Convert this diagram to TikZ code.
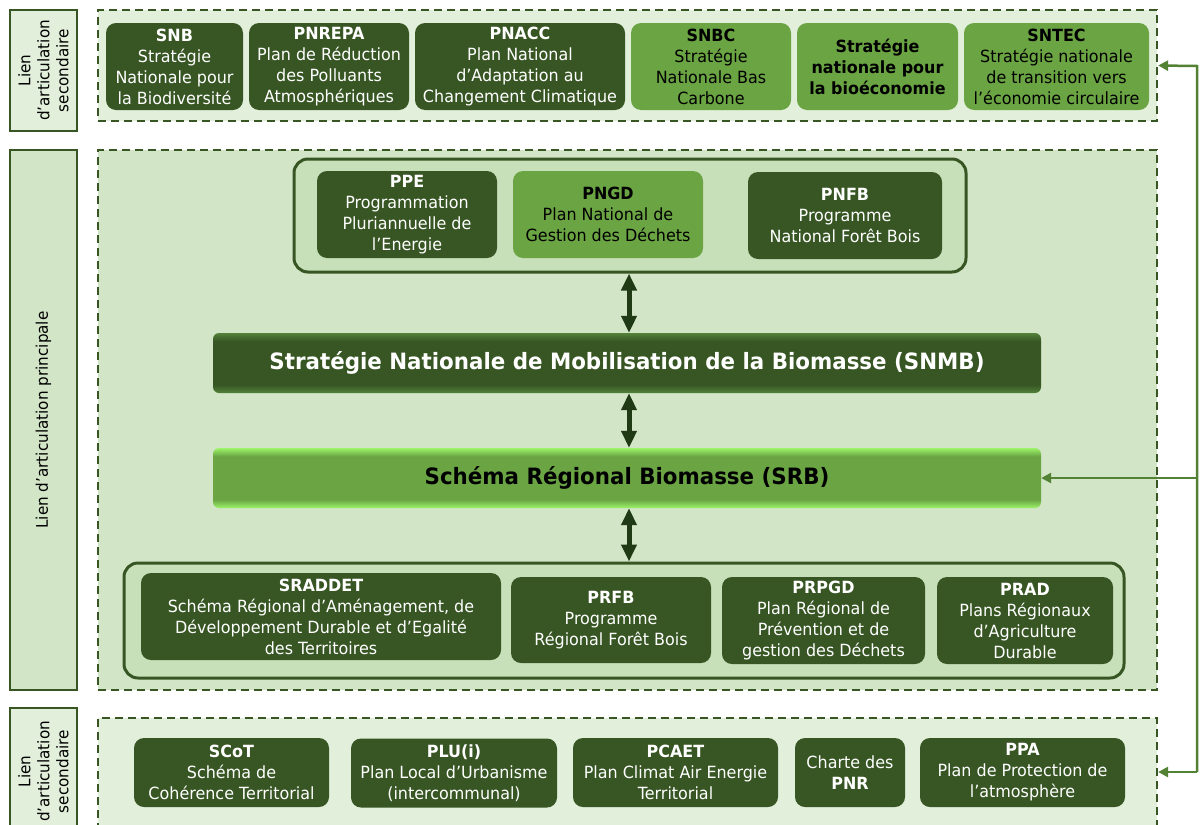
\documentclass[tikz,border=0pt]{standalone}
\usepackage{fontspec}
\setmainfont{DejaVu Sans}[FakeStretch=0.95]
\usetikzlibrary{arrows.meta}
\definecolor{dg}{HTML}{375623}
\definecolor{lg}{HTML}{6AA443}
\definecolor{palebg}{HTML}{E2EFDA}
\definecolor{midbg}{HTML}{D2E5C6}
\definecolor{innerbg}{HTML}{C8E0B9}
\definecolor{arrowdk}{HTML}{213A16}
\definecolor{conncol}{HTML}{548235}
\definecolor{snmbedge}{HTML}{52813A}
\definecolor{srbedge}{HTML}{9CF46A}
\pgfdeclareverticalshading{snmbshade}{100bp}{color(0bp)=(snmbedge); color(25bp)=(snmbedge); color(32bp)=(dg); color(68bp)=(dg); color(75bp)=(snmbedge); color(100bp)=(snmbedge)}
\pgfdeclareverticalshading{srbshade}{100bp}{color(0bp)=(srbedge); color(25bp)=(srbedge); color(32bp)=(lg); color(68bp)=(lg); color(75bp)=(srbedge); color(100bp)=(srbedge)}
\tikzset{
  basebox/.style={rounded corners=10pt, align=center, inner sep=1pt,
    font=\fontsize{16.8}{21}\selectfont},
  dbox/.style={basebox, fill=dg, text=white},
  lbox/.style={basebox, fill=lg, text=black},
  dashcont/.style={draw=dg, line width=2.2pt, dash pattern=on 8pt off 5pt, inner sep=0pt},
  innercont/.style={draw=dg, line width=3pt, fill=innerbg, rounded corners=14pt, inner sep=0pt},
  lab/.style={draw=dg, line width=1.5pt, rotate=90, align=center, inner sep=0pt,
    font=\fontsize{16}{19}\selectfont},
  bar/.style={rounded corners=6pt, inner sep=0pt, font=\fontsize{22.5}{26}\selectfont\bfseries},
  dblarrow/.style={draw=arrowdk, line width=5pt,
    {Triangle[width=15pt,length=17pt]}-{Triangle[width=15pt,length=17pt]}},
  conn/.style={draw=conncol, line width=2.5pt, -{Triangle[width=10pt,length=10pt]}}
}
\begin{document}
\begin{tikzpicture}[x=1pt,y=-1pt]
\useasboundingbox (0,0) rectangle (1200,825);
\begin{scope}
\clip (0,0) rectangle (1200,825);
% labels
\node[lab, fill=palebg, minimum width=121pt, minimum height=67pt] (labtop) at (43.5,70.5) {Lien\\d'articulation\\secondaire};
\node[lab, fill=midbg, minimum width=540pt, minimum height=67pt] (labmid) at (43.5,420) {Lien d'articulation principale};
\node[lab, fill=palebg, minimum width=127pt, minimum height=67pt] (labbot) at (43.5,771.5) {Lien\\d'articulation\\secondaire};
% containers
\node[dashcont, fill=palebg, minimum width=1059pt, minimum height=111pt] (topc) at (627.5,65.5) {};
\node[dashcont, fill=midbg, minimum width=1059pt, minimum height=540pt] (midc) at (627.5,420) {};
\node[dashcont, fill=palebg, minimum width=1059pt, minimum height=117pt] (botc) at (627.5,776.5) {};
% top row
\node[dbox, minimum width=137pt, minimum height=87pt] (snb) at (174.5,66.5) {\textbf{SNB}\\Stratégie\\Nationale pour\\la Biodiversité};
\node[dbox, minimum width=160pt, minimum height=87pt] (pnrepa) at (329,66.5) {\textbf{PNREPA}\\Plan de Réduction\\des Polluants\\Atmosphériques};
\node[dbox, minimum width=210pt, minimum height=87pt] (pnacc) at (520,66.5) {\textbf{PNACC}\\Plan National\\d’Adaptation au\\Changement Climatique};
\node[lbox, minimum width=160pt, minimum height=87pt] (snbc) at (711,66.5) {\textbf{SNBC}\\Stratégie\\Nationale Bas\\Carbone};
\node[lbox, minimum width=161pt, minimum height=87pt, font=\fontsize{16.8}{21}\selectfont\bfseries] (bioeco) at (877.5,66.5) {Stratégie\\nationale pour\\la bioéconomie};
\node[lbox, minimum width=185pt, minimum height=87pt] (sntec) at (1056.5,66.5) {\textbf{SNTEC}\\Stratégie nationale\\de transition vers\\l’économie circulaire};
% middle: national
\node[innercont, minimum width=672pt, minimum height=113pt] (ptop) at (630,215.5) {};
\node[dbox, minimum width=180pt, minimum height=87pt] (ppe) at (407,214.5) {\textbf{PPE}\\Programmation\\Pluriannuelle de\\l’Energie};
\node[lbox, minimum width=190pt, minimum height=87pt] (pngd) at (608,214.5) {\textbf{PNGD}\\Plan National de\\Gestion des Déchets};
\node[dbox, minimum width=194pt, minimum height=87pt] (pnfb) at (845,215.5) {\textbf{PNFB}\\Programme\\National Forêt Bois};
% bars
\node[bar, text=white, shading=snmbshade, minimum width=828pt, minimum height=60pt] (snmb) at (627,363) {Stratégie Nationale de Mobilisation de la Biomasse (SNMB)};
\node[bar, text=black, shading=srbshade, minimum width=828pt, minimum height=60pt] (srb) at (627,478) {Schéma Régional Biomasse (SRB)};
% regional
\node[innercont, minimum width=1000pt, minimum height=115pt] (pbot) at (624,620.5) {};
\node[dbox, minimum width=360pt, minimum height=87pt] (sraddet) at (321,616.5) {\textbf{SRADDET}\\Schéma Régional d’Aménagement, de\\Développement Durable et d’Egalité\\des Territoires};
\node[dbox, minimum width=200pt, minimum height=86pt] (prfb) at (611,620) {\textbf{PRFB}\\Programme\\Régional Forêt Bois};
\node[dbox, minimum width=203pt, minimum height=87pt] (prpgd) at (823.5,620.5) {\textbf{PRPGD}\\Plan Régional de\\Prévention et de\\gestion des Déchets};
\node[dbox, minimum width=176pt, minimum height=87pt] (prad) at (1025,620.5) {\textbf{PRAD}\\Plans Régionaux\\d’Agriculture\\Durable};
% arrows between levels
\draw[dblarrow] (ptop.south -| 629,0) -- (snmb.north -| 629,0);
\draw[dblarrow] (snmb.south -| 629,0) -- (srb.north -| 629,0);
\draw[dblarrow] (srb.south -| 629,0) -- (pbot.north -| 629,0);
% bottom row
\node[dbox, minimum width=195pt, minimum height=69pt] (scot) at (231.5,772.5) {\textbf{SCoT}\\Schéma de\\Cohérence Territorial};
\node[dbox, minimum width=206pt, minimum height=69pt] (plu) at (454,773) {\textbf{PLU(i)}\\Plan Local d’Urbanisme\\(intercommunal)};
\node[dbox, minimum width=205pt, minimum height=69pt] (pcaet) at (675.5,772.5) {\textbf{PCAET}\\Plan Climat Air Energie\\Territorial};
\node[dbox, minimum width=110pt, minimum height=69pt] (charte) at (850,772.5) {Charte des\\\textbf{PNR}};
\node[dbox, minimum width=205pt, minimum height=69pt] (ppa) at (1022.5,772.5) {\textbf{PPA}\\Plan de Protection de\\l’atmosphère};
% right connector
\coordinate (rt) at (1197,66);
\coordinate (rb) at (1197,772);
\coordinate (rm) at (1197,478);
\draw[conn] (rb) -- (rt) -- (topc.east);
\draw[conn] (rb) -- (botc.east |- rb);
\draw[conn] (rm) -- (srb.east);
\end{scope}
\end{tikzpicture}
\end{document}
